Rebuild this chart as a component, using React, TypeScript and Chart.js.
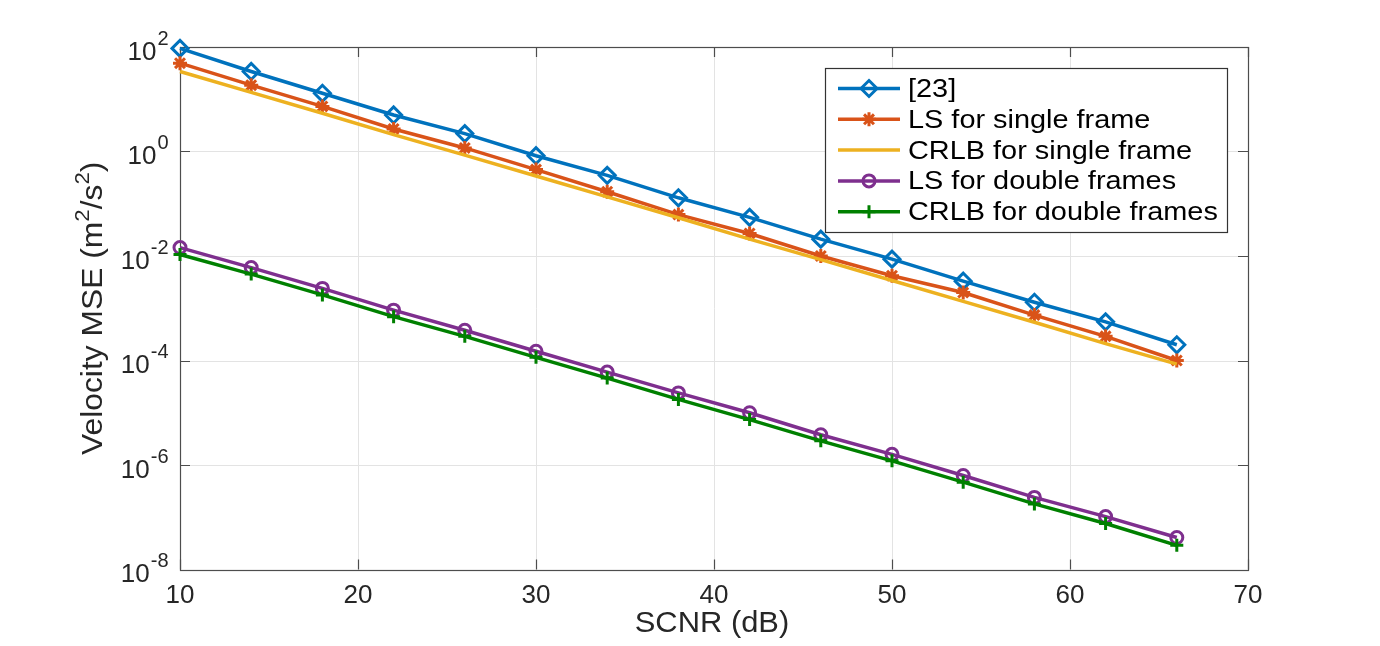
import React, { useEffect, useRef } from 'react';
import Chart from 'chart.js/auto';

// SCNR sweep (dB)
const snrDb = [10, 14, 18, 22, 26, 30, 34, 38, 42, 46, 50, 54, 58, 62, 66];

// Velocity MSE (m^2/s^2) for each method
const mseRef23 = [94, 34, 13, 5.0, 2.2, 0.83, 0.35, 0.13, 0.055, 0.021, 0.0087, 0.0033, 0.0013, 5.5e-4, 2.0e-4];
const mseLsSingle = [49, 18.6, 7.3, 2.7, 1.17, 0.45, 0.17, 0.062, 0.027, 0.010, 0.0042, 0.0020, 7.4e-4, 2.9e-4, 1.0e-4];
const crlbSingle = [34, 13.5, 5.4, 2.1, 0.85, 0.34, 0.135, 0.054, 0.021, 0.0085, 0.0034, 0.00135, 5.4e-4, 2.1e-4, 8.5e-5];
const mseLsDouble = [0.0145, 0.0060, 0.0024, 9.2e-4, 3.8e-4, 1.5e-4, 6.0e-5, 2.4e-5, 1.0e-5, 3.8e-6, 1.6e-6, 6.3e-7, 2.4e-7, 1.03e-7, 4.1e-8];
const crlbDouble = [0.0107, 0.0045, 0.0018, 6.9e-4, 2.9e-4, 1.15e-4, 4.6e-5, 1.8e-5, 7.4e-6, 2.9e-6, 1.2e-6, 4.7e-7, 1.8e-7, 7.6e-8, 2.9e-8];

const seriesNames = ['[23]', 'LS for single frame', 'CRLB for single frame', 'LS for double frames', 'CRLB for double frames'];

// Axis ticks
const xTicks = [10, 20, 30, 40, 50, 60, 70];
const yTickExponents = [2, 0, -2, -4, -6, -8];

const FONT = '"Liberation Sans", Arial, Helvetica, sans-serif';
const TEXT = '#262626';
const COLORS = ['#0072BD', '#D95319', '#EDB120', '#7E2F8E', '#008000'];
const MARKERS = ['diamond', 'asterisk', 'none', 'circle', 'plus'];

function markerStroke(ctx: CanvasRenderingContext2D, kind: string, x: number, y: number, color: string) {
  ctx.save();
  ctx.strokeStyle = color;
  ctx.lineWidth = 3;
  ctx.beginPath();
  if (kind === 'diamond') {
    ctx.moveTo(x, y - 8);
    ctx.lineTo(x + 8, y);
    ctx.lineTo(x, y + 8);
    ctx.lineTo(x - 8, y);
    ctx.closePath();
  } else if (kind === 'asterisk') {
    const r = 7;
    for (let k = 0; k < 4; k++) {
      const a = (k * Math.PI) / 4;
      ctx.moveTo(x - Math.cos(a) * r, y - Math.sin(a) * r);
      ctx.lineTo(x + Math.cos(a) * r, y + Math.sin(a) * r);
    }
  } else if (kind === 'circle') {
    ctx.arc(x, y, 6, 0, Math.PI * 2);
  } else if (kind === 'plus') {
    ctx.moveTo(x - 6.5, y);
    ctx.lineTo(x + 6.5, y);
    ctx.moveTo(x, y - 6.5);
    ctx.lineTo(x, y + 6.5);
  }
  ctx.stroke();
  ctx.restore();
}

// text drawn with a slight horizontal widening
function wideText(ctx: CanvasRenderingContext2D, text: string, x: number, y: number, sx: number) {
  ctx.save();
  ctx.translate(x, y);
  ctx.scale(sx, 1);
  ctx.fillText(text, 0, 0);
  ctx.restore();
}

// "10" with a raised exponent, right-aligned at xRight
function drawPower(ctx: CanvasRenderingContext2D, exp: number, xRight: number, yTick: number) {
  const baseFont = `26px ${FONT}`;
  const expFont = `20px ${FONT}`;
  ctx.font = expFont;
  const expText = exp < 0 ? `-${-exp}` : `${exp}`;
  const we = ctx.measureText(expText).width;
  ctx.font = baseFont;
  const wb = ctx.measureText('10').width;
  ctx.textAlign = 'left';
  ctx.textBaseline = 'alphabetic';
  ctx.fillStyle = TEXT;
  ctx.fillText('10', xRight - we - wb - 1, yTick + 12.8);
  ctx.font = expFont;
  ctx.fillText(expText, xRight - we, yTick - 2.5);
}

const matlabAxes = {
  id: 'matlabAxes',
  beforeDatasetsDraw(chart: any) {
    const { ctx, chartArea: a, scales } = chart;
    const x = scales.x;
    const y = scales.y;
    ctx.save();
    // grid
    ctx.strokeStyle = '#e3e3e3';
    ctx.lineWidth = 1;
    ctx.beginPath();
    xTicks.forEach((v) => {
      const px = Math.round(x.getPixelForValue(v)) + 0.5;
      ctx.moveTo(px, a.top);
      ctx.lineTo(px, a.bottom);
    });
    yTickExponents.forEach((e) => {
      const py = Math.round(y.getPixelForValue(Math.pow(10, e))) + 0.5;
      ctx.moveTo(a.left, py);
      ctx.lineTo(a.right, py);
    });
    ctx.stroke();
    // box and inward ticks
    ctx.strokeStyle = '#4d4d4d';
    ctx.lineWidth = 1.2;
    ctx.strokeRect(Math.round(a.left) + 0.5, Math.round(a.top) + 0.5, Math.round(a.right - a.left), Math.round(a.bottom - a.top));
    const tl = 10;
    ctx.beginPath();
    xTicks.forEach((v) => {
      const px = Math.round(x.getPixelForValue(v)) + 0.5;
      ctx.moveTo(px, a.bottom);
      ctx.lineTo(px, a.bottom - tl);
      ctx.moveTo(px, a.top);
      ctx.lineTo(px, a.top + tl);
    });
    yTickExponents.forEach((e) => {
      const py = Math.round(y.getPixelForValue(Math.pow(10, e))) + 0.5;
      ctx.moveTo(a.left, py);
      ctx.lineTo(a.left + tl, py);
      ctx.moveTo(a.right, py);
      ctx.lineTo(a.right - tl, py);
    });
    ctx.stroke();
    ctx.restore();
  },
  afterDraw(chart: any) {
    const { ctx, chartArea: a, scales } = chart;
    const x = scales.x;
    const y = scales.y;
    ctx.save();
    // x tick labels
    ctx.font = `26px ${FONT}`;
    ctx.fillStyle = TEXT;
    ctx.textAlign = 'center';
    ctx.textBaseline = 'alphabetic';
    xTicks.forEach((v) => ctx.fillText(String(v), x.getPixelForValue(v), a.bottom + 33.5));
    // y tick labels
    yTickExponents.forEach((e) => drawPower(ctx, e, a.left - 11.5, y.getPixelForValue(Math.pow(10, e))));
    // x title
    ctx.font = `30px ${FONT}`;
    ctx.textAlign = 'left';
    ctx.fillStyle = TEXT;
    const xTitle = 'SCNR (dB)';
    const xsx = 1.03;
    const xw = ctx.measureText(xTitle).width * xsx;
    wideText(ctx, xTitle, (a.left + a.right) / 2 - xw / 2 - 2, a.bottom + 62.5, xsx);
    // y title with superscripts
    const parts: [string, boolean][] = [['Velocity MSE (m', false], ['2', true], ['/s', false], ['2', true], [')', false]];
    const big = `30px ${FONT}`;
    const small = `21px ${FONT}`;
    const ysx = 1.06;
    let total = 0;
    parts.forEach(([t, sup]) => {
      ctx.font = sup ? small : big;
      total += ctx.measureText(t).width * ysx;
    });
    ctx.translate(101.5, (a.top + a.bottom) / 2);
    ctx.rotate(-Math.PI / 2);
    let cx = -total / 2;
    parts.forEach(([t, sup]) => {
      ctx.font = sup ? small : big;
      wideText(ctx, t, cx, sup ? -13 : 0, ysx);
      cx += ctx.measureText(t).width * ysx;
    });
    ctx.restore();

    // legend
    ctx.save();
    const lx = 825, ly = 68, lw = 402, lh = 164;
    ctx.fillStyle = '#ffffff';
    ctx.fillRect(lx, ly, lw, lh);
    ctx.strokeStyle = '#333333';
    ctx.lineWidth = 1.2;
    ctx.strokeRect(lx + 0.5, ly + 0.5, lw, lh);
    ctx.font = `26.5px ${FONT}`;
    ctx.textAlign = 'left';
    ctx.textBaseline = 'alphabetic';
    seriesNames.forEach((name, i) => {
      const ry = ly + 20.5 + i * 30.8;
      ctx.strokeStyle = COLORS[i];
      ctx.lineWidth = 3.5;
      ctx.beginPath();
      ctx.moveTo(838, ry);
      ctx.lineTo(900, ry);
      ctx.stroke();
      markerStroke(ctx, MARKERS[i], 869, ry, COLORS[i]);
      ctx.fillStyle = '#000000';
      wideText(ctx, name, 908, ry + 8.5, 1.09);
    });
    ctx.restore();
  },
};

export default function App() {
  const canvasRef = useRef<HTMLCanvasElement | null>(null);

  useEffect(() => {
    document.body.style.margin = '0';
    const canvas = canvasRef.current;
    if (!canvas) return;
    const seriesValues = [mseRef23, mseLsSingle, crlbSingle, mseLsDouble, crlbDouble];
    const pointStyles: any[] = ['rectRot', 'star', 'circle', 'circle', 'cross'];
    const radii = [8, 7, 0, 6, 6.5];
    const datasets = seriesValues.map((vals, i) => ({
      label: seriesNames[i],
      data: snrDb.map((s, k) => ({ x: s, y: vals[k] })),
      borderColor: COLORS[i],
      backgroundColor: COLORS[i],
      borderWidth: 3.5,
      pointStyle: pointStyles[i],
      pointRadius: radii[i],
      pointBorderWidth: 3,
      pointBorderColor: COLORS[i],
      pointBackgroundColor: 'rgba(0,0,0,0)',
      tension: 0,
      clip: false as any,
      order: 5 - i,
    }));
    const chart = new Chart(canvas, {
      type: 'line',
      data: { datasets },
      plugins: [matlabAxes],
      options: {
        responsive: false,
        animation: false,
        events: [],
        layout: { padding: { left: 180, right: 132, top: 47, bottom: 76.5 } },
        plugins: { legend: { display: false }, tooltip: { enabled: false } },
        scales: {
          x: { type: 'linear', min: 10, max: 70, display: false },
          y: { type: 'logarithmic', min: 1e-8, max: 1e2, display: false },
        },
      },
    });
    return () => chart.destroy();
  }, []);

  return (
    <div style={{ width: 1380, height: 646, background: '#ffffff' }}>
      <canvas ref={canvasRef} width={1380} height={646} style={{ display: 'block' }} />
    </div>
  );
}
